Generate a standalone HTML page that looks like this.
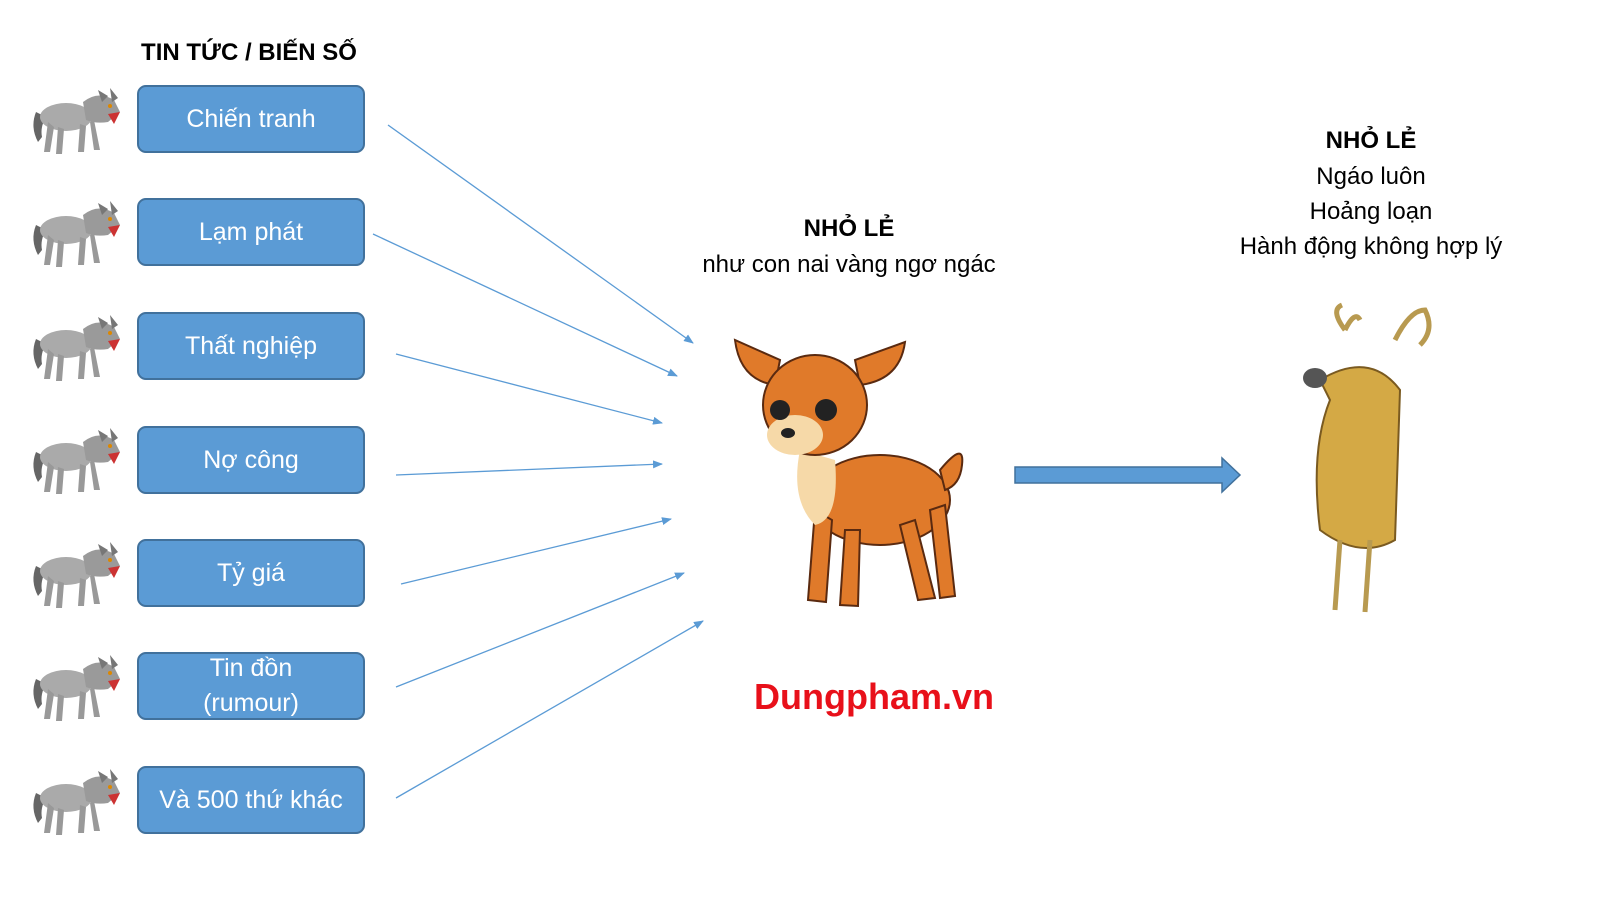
<!DOCTYPE html>
<html><head><meta charset="utf-8"><style>
body{margin:0;width:1600px;height:900px;background:#fff;position:relative;overflow:hidden;font-family:"Liberation Sans","DejaVu Sans",sans-serif}
.t{position:absolute;transform:translate(-50%,-50%);white-space:nowrap;color:#000;text-align:center}
.box{position:absolute;left:137px;width:224px;height:64px;background:#5b9bd5;border:2px solid #41719c;border-radius:9px;color:#fff;font-size:25px;display:flex;align-items:center;justify-content:center;text-align:center;line-height:35px;box-sizing:content-box}
</style></head><body>
<div class="t" style="left:249px;top:53px;font-size:24px;font-weight:bold">TIN TỨC / BIẾN SỐ</div>
<div class="box" style="top:85px">Chiến tranh</div>
<div class="box" style="top:198px">Lạm phát</div>
<div class="box" style="top:312px">Thất nghiệp</div>
<div class="box" style="top:426px">Nợ công</div>
<div class="box" style="top:539px">Tỷ giá</div>
<div class="box" style="top:652px">Tin đồn<br>(rumour)</div>
<div class="box" style="top:766px">Và 500 thứ khác</div>
<svg width="1600" height="900" style="position:absolute;left:0;top:0">
<defs>
<marker id="a" markerWidth="10" markerHeight="8" refX="9" refY="4" orient="auto" markerUnits="userSpaceOnUse"><path d="M0,0L10,4L0,8z" fill="#5b9bd5"/></marker>
<g id="w">
<path d="M8,30 Q2,45 10,60 L14,55 Q12,45 18,35z" fill="#666"/>
<ellipse cx="38" cy="35" rx="26" ry="14" fill="#aaa"/>
<path d="M20,40 L16,70 L22,70 L26,45z M30,45 L28,72 L34,72 L36,47z M52,42 L50,70 L56,70 L58,44z M62,40 L66,68 L72,68 L66,38z" fill="#999"/>
<path d="M55,20 Q70,8 86,18 L92,30 L80,40 Q68,42 58,38z" fill="#9a9a9a"/>
<path d="M70,8 L74,20 L80,14z M82,6 L84,20 L90,16z" fill="#777"/>
<path d="M80,32 L92,30 L86,42z" fill="#c33"/>
<circle cx="82" cy="24" r="2" fill="#d80"/>
</g>
</defs>
<g stroke="#5b9bd5" stroke-width="1.3" marker-end="url(#a)">
<line x1="388" y1="125" x2="693" y2="343"/>
<line x1="373" y1="234" x2="677" y2="376"/>
<line x1="396" y1="354" x2="662" y2="423"/>
<line x1="396" y1="475" x2="662" y2="464"/>
<line x1="401" y1="584" x2="671" y2="519"/>
<line x1="396" y1="687" x2="684" y2="573"/>
<line x1="396" y1="798" x2="703" y2="621"/>
</g>
<use href="#w" x="28" y="82"/><use href="#w" x="28" y="195"/><use href="#w" x="28" y="309"/><use href="#w" x="28" y="422"/><use href="#w" x="28" y="536"/><use href="#w" x="28" y="649"/><use href="#w" x="28" y="763"/>
<path d="M1015,467 L1222,467 L1222,458 L1240,475 L1222,492 L1222,483 L1015,483z" fill="#5b9bd5" stroke="#41719c" stroke-width="1.5"/>
<!-- deer -->
<g>
<path d="M735,340 Q740,380 775,385 L780,360z" fill="#e07a2a" stroke="#5a2a10" stroke-width="2"/>
<path d="M905,342 Q900,380 860,385 L855,360z" fill="#e07a2a" stroke="#5a2a10" stroke-width="2"/>
<ellipse cx="880" cy="500" rx="70" ry="45" fill="#e07a2a" stroke="#5a2a10" stroke-width="2"/>
<path d="M940,470 Q965,440 962,465 Q960,485 945,490z" fill="#e07a2a" stroke="#5a2a10" stroke-width="2"/>
<path d="M815,510 L808,600 L826,602 L832,520z M845,530 L840,605 L858,606 L860,530z M900,525 L918,600 L935,598 L915,520z M930,510 L940,598 L955,596 L945,505z" fill="#e07a2a" stroke="#5a2a10" stroke-width="2"/>
<path d="M800,450 Q790,500 815,525 Q840,520 835,460z" fill="#f6d9a8"/>
<ellipse cx="815" cy="405" rx="52" ry="50" fill="#e07a2a" stroke="#5a2a10" stroke-width="2"/>
<ellipse cx="795" cy="435" rx="28" ry="20" fill="#f6d9a8"/>
<circle cx="780" cy="410" r="10" fill="#222"/><circle cx="826" cy="410" r="11" fill="#222"/>
<ellipse cx="788" cy="433" rx="7" ry="5" fill="#222"/>
</g>
<!-- moose -->
<g>
<path d="M1345,330 Q1330,310 1342,305 M1345,330 Q1355,310 1360,320 M1395,340 Q1410,310 1425,310 Q1435,330 1420,345" fill="none" stroke="#b89a50" stroke-width="5"/>
<path d="M1320,380 Q1370,350 1400,390 L1395,540 Q1360,560 1320,530 Q1310,450 1330,400z" fill="#d4a945" stroke="#7a5a20" stroke-width="2"/>
<ellipse cx="1315" cy="378" rx="12" ry="10" fill="#555"/>
<path d="M1340,540 L1335,610 M1370,540 L1365,612" stroke="#b89a50" stroke-width="5"/>
</g>
</svg>
<div class="t" style="left:849px;top:229px;font-size:24px;font-weight:bold">NHỎ LẺ</div>
<div class="t" style="left:849px;top:265px;font-size:24px">như con nai vàng ngơ ngác</div>
<div class="t" style="left:1371px;top:141px;font-size:24px;font-weight:bold">NHỎ LẺ</div>
<div class="t" style="left:1371px;top:177px;font-size:24px">Ngáo luôn</div>
<div class="t" style="left:1371px;top:212px;font-size:24px">Hoảng loạn</div>
<div class="t" style="left:1371px;top:247px;font-size:24px">Hành động không hợp lý</div>
<div class="t" style="left:874px;top:697px;font-size:36px;font-weight:bold;color:#e8101a">Dungpham.vn</div>
</body></html>
